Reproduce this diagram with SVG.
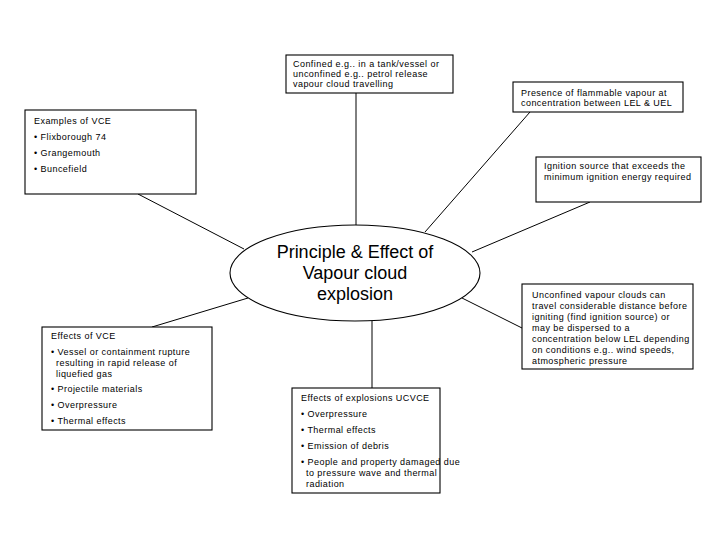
<svg xmlns="http://www.w3.org/2000/svg" width="720" height="540" viewBox="0 0 720 540">
<style>
.box{fill:#fff;stroke:#000;stroke-width:1.1}
.ln{stroke:#000;stroke-width:1;fill:none}
.t{font-family:"Liberation Sans",Arial,sans-serif;font-size:9px;letter-spacing:0.45px;fill:#000}
.c{font-family:"Liberation Sans",Arial,sans-serif;font-size:18px;fill:#000;text-anchor:middle}
</style>
<rect width="720" height="540" fill="#fff"/>
<g id="connectors">
<line class="ln" x1="356" y1="93" x2="356" y2="225"/>
<line class="ln" x1="530" y1="112" x2="425" y2="232"/>
<line class="ln" x1="138" y1="194" x2="244" y2="249"/>
<line class="ln" x1="590" y1="202" x2="472" y2="252"/>
<line class="ln" x1="462" y1="298" x2="522" y2="328"/>
<line class="ln" x1="248" y1="298" x2="152" y2="327"/>
<line class="ln" x1="372" y1="321" x2="372" y2="388"/>
</g>
<g id="center">
<ellipse class="box" cx="355" cy="273" rx="125" ry="48"/>
<text class="c" x="355" y="258">Principle &amp; Effect of</text>
<text class="c" x="355" y="279">Vapour cloud</text>
<text class="c" x="355" y="300">explosion</text>
</g>
<g id="confined">
<rect class="box" x="286" y="55" width="167" height="38"/>
<text class="t" x="293" y="67">Confined e.g.. in a tank/vessel or</text>
<text class="t" x="293" y="77">unconfined e.g.. petrol release</text>
<text class="t" x="293" y="87">vapour cloud travelling</text>
</g>
<g id="presence">
<rect class="box" x="513" y="82" width="170" height="30"/>
<text class="t" x="521" y="96">Presence of flammable vapour at</text>
<text class="t" x="521" y="106">concentration between LEL &amp; UEL</text>
</g>
<g id="examples">
<rect class="box" x="25" y="110" width="171" height="84"/>
<text class="t" x="34" y="124">Examples of VCE</text>
<text class="t" x="34" y="140">• Flixborough 74</text>
<text class="t" x="34" y="156">• Grangemouth</text>
<text class="t" x="34" y="172">• Buncefield</text>
</g>
<g id="ignition">
<rect class="box" x="536" y="157" width="165" height="45"/>
<text class="t" x="544" y="169">Ignition source that exceeds the</text>
<text class="t" x="544" y="180">minimum ignition energy required</text>
</g>
<g id="unconfined">
<rect class="box" x="522" y="284" width="171" height="85"/>
<text class="t" x="532" y="298">Unconfined vapour clouds can</text>
<text class="t" x="532" y="309">travel considerable distance before</text>
<text class="t" x="532" y="320">igniting (find ignition source) or</text>
<text class="t" x="532" y="331">may be dispersed to a</text>
<text class="t" x="532" y="342">concentration below LEL depending</text>
<text class="t" x="532" y="353">on conditions e.g.. wind speeds,</text>
<text class="t" x="532" y="364">atmospheric pressure</text>
</g>
<g id="effects-vce">
<rect class="box" x="42" y="327" width="170" height="103"/>
<text class="t" x="51" y="339">Effects of VCE</text>
<text class="t" x="51" y="355">• Vessel or containment rupture</text>
<text class="t" x="56" y="366">resulting in rapid release of</text>
<text class="t" x="56" y="377">liquefied gas</text>
<text class="t" x="51" y="392">• Projectile materials</text>
<text class="t" x="51" y="408">• Overpressure</text>
<text class="t" x="51" y="424">• Thermal effects</text>
</g>
<g id="effects-ucvce">
<rect class="box" x="292" y="388" width="148" height="105"/>
<text class="t" x="301" y="401">Effects of explosions UCVCE</text>
<text class="t" x="301" y="417">• Overpressure</text>
<text class="t" x="301" y="433">• Thermal effects</text>
<text class="t" x="301" y="449">• Emission of debris</text>
<text class="t" x="301" y="465">• People and property damaged due</text>
<text class="t" x="306" y="476">to pressure wave and thermal</text>
<text class="t" x="306" y="487">radiation</text>
</g>
</svg>
